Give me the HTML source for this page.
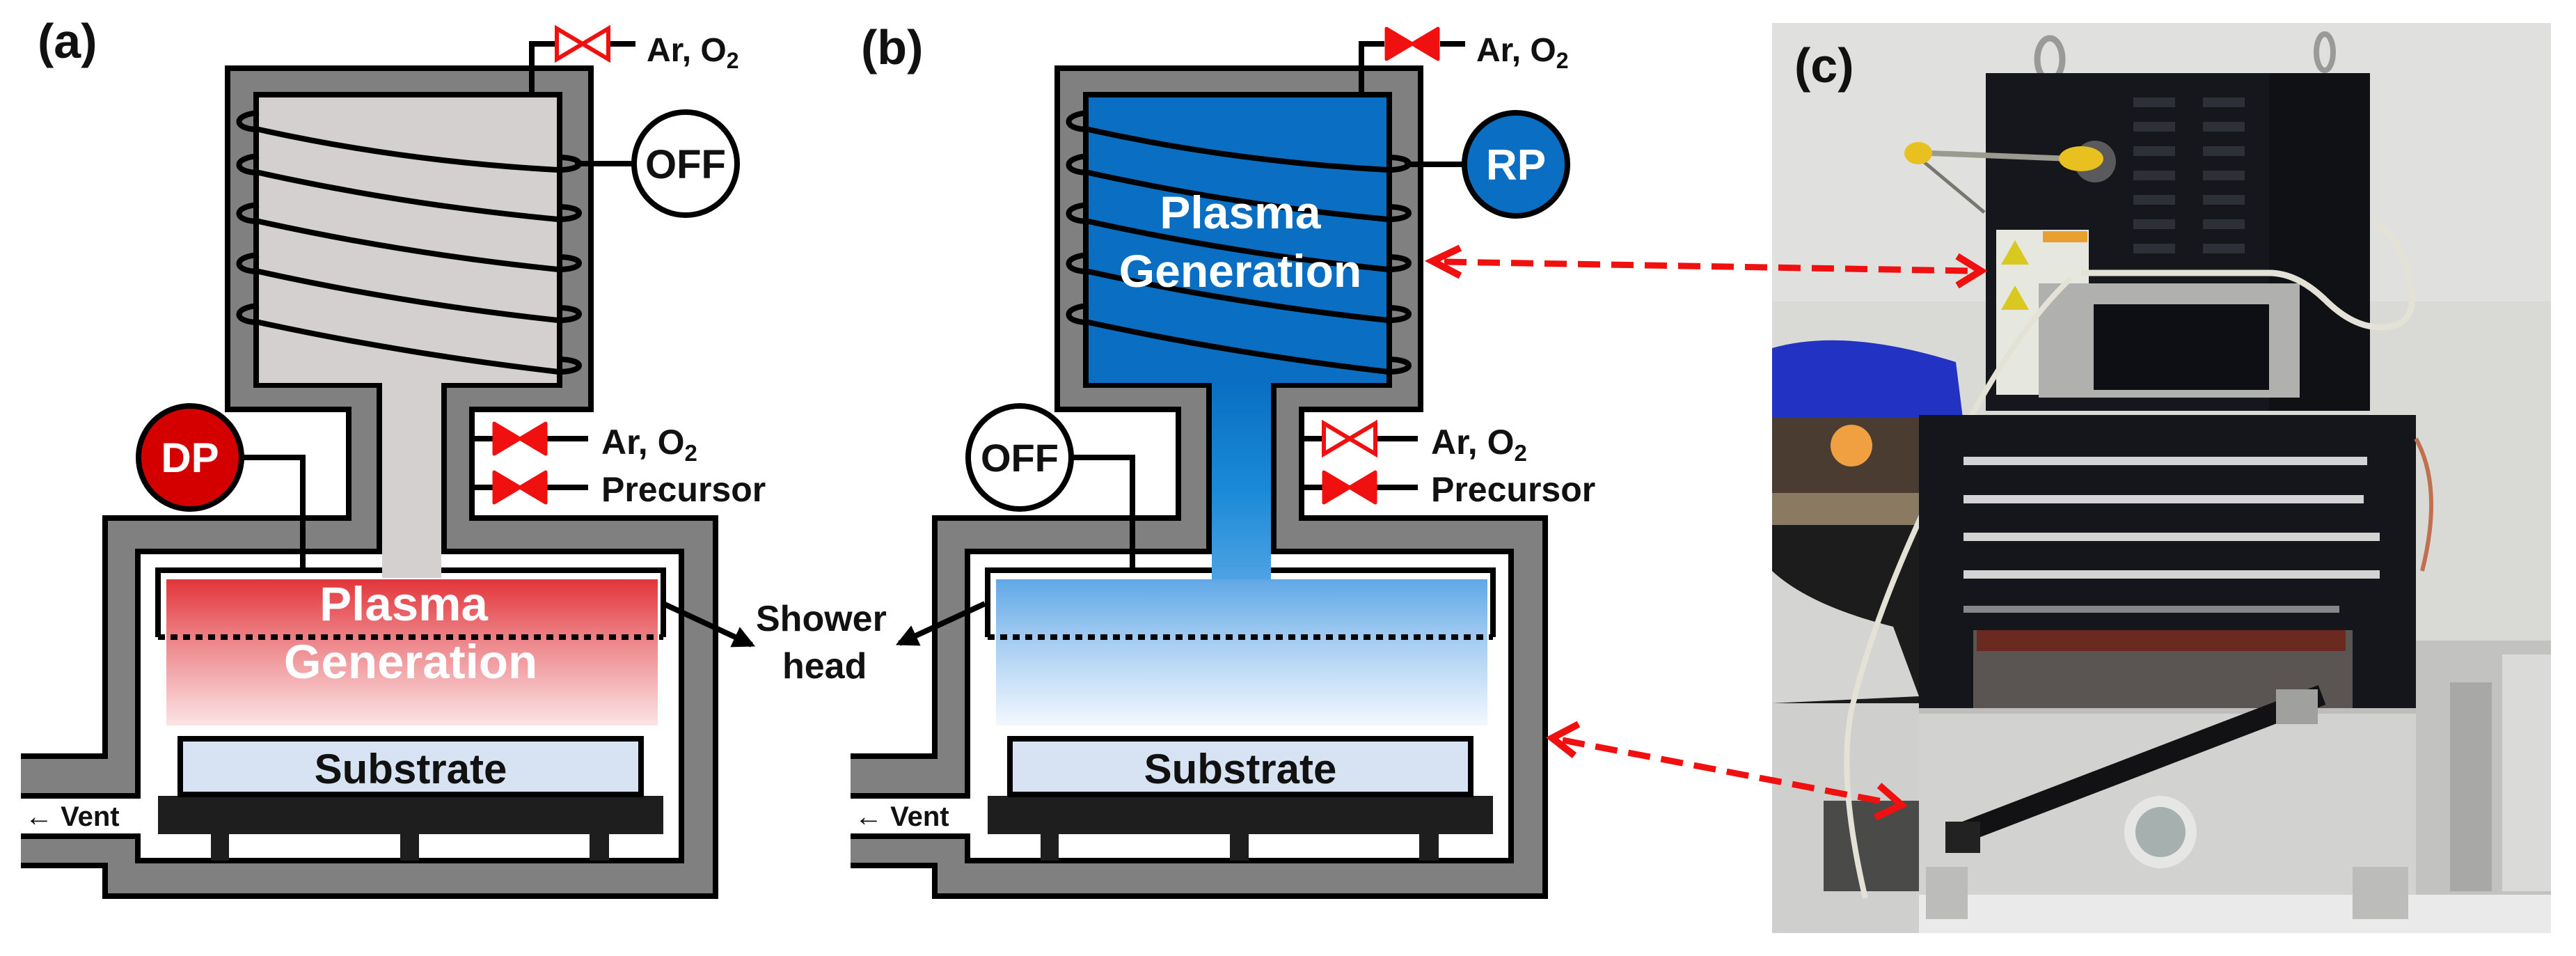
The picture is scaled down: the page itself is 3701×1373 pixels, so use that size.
<!DOCTYPE html>
<html><head><meta charset="utf-8"><style>
html,body{margin:0;padding:0;background:#fff;}
svg{display:block;}
text{font-family:"Liberation Sans",Arial,sans-serif;font-weight:bold;}
</style></head><body>
<svg width="3701" height="1373" viewBox="0 0 3701 1373" xmlns="http://www.w3.org/2000/svg">
<defs>
<linearGradient id="red" x1="0" y1="0" x2="0" y2="1">
<stop offset="0" stop-color="#e2353a"/><stop offset="0.45" stop-color="#ee8a8e"/><stop offset="1" stop-color="#fbe4e5"/></linearGradient>
<linearGradient id="blu" x1="0" y1="0" x2="0" y2="1">
<stop offset="0" stop-color="#5fa8e6"/><stop offset="0.45" stop-color="#a9cff2"/><stop offset="1" stop-color="#f2f8fe"/></linearGradient>
<linearGradient id="neck" x1="0" y1="0" x2="0" y2="1">
<stop offset="0" stop-color="#0a6fc2"/><stop offset="0.55" stop-color="#1a8ad8"/><stop offset="1" stop-color="#4ea2e2"/></linearGradient>
<marker id="ah" markerWidth="4" markerHeight="4" refX="3.3" refY="2" orient="auto" markerUnits="strokeWidth">
<path d="M0,0 L4,2 L0,4 Z" fill="#000"/></marker>
<g id="coils" fill="none" stroke="#000" stroke-width="8">
<path d="M372 162 C334 164 334 186 372 186 Q580 232 802 244 C842 244 842 226 802 226"/>
<path d="M372 224 C334 226 334 248 372 248 Q580 294 802 315 C842 315 842 297 802 297"/>
<path d="M372 294 C334 296 334 318 372 318 Q580 364 802 387 C842 387 842 369 802 369"/>
<path d="M372 366 C334 368 334 390 372 390 Q580 436 802 460 C842 460 842 442 802 442"/>
<path d="M372 439 C334 441 334 463 372 463 Q580 508 802 534 C842 534 842 516 802 516"/>
</g>
<path id="outer" d="M327 98 H849 V588 H678 V744 H1028 V1287 H151 V1243 H10 V1086 H151 V744 H501 V588 H327 Z"/>
<path id="inner" d="M368 136 H804 V553 H638 V792 H979 V1236 H198 V1201 H10 V1143 H198 V792 H545 V553 H368 Z"/>
<g id="bottom">
<rect x="227" y="1143" width="726" height="55" fill="#1e1e1e"/>
<rect x="303" y="1196" width="26" height="40" fill="#1e1e1e"/>
<rect x="575" y="1196" width="27" height="40" fill="#1e1e1e"/>
<rect x="847" y="1196" width="28" height="40" fill="#1e1e1e"/>
<rect x="259" y="1061" width="662" height="80" fill="#d7e3f3" stroke="#000" stroke-width="8"/>
<text x="590" y="1125" font-size="60" text-anchor="middle" fill="#111">Substrate</text>
<text x="36" y="1186" font-size="40" fill="#111">← Vent</text>
</g>
<g id="valveF"><path d="M-37 -22 L-37 22 L0 0 Z M37 -22 L37 22 L0 0 Z" fill="#f01010" stroke="#f01010" stroke-width="5" stroke-linejoin="round"/></g>
<g id="valveO"><path d="M-37 -22 L-37 22 L0 0 Z M37 -22 L37 22 L0 0 Z" fill="#fff" stroke="#f01010" stroke-width="6" stroke-linejoin="miter"/></g>
</defs>

<!-- ========== PANEL A ========== -->
<text x="54" y="83" font-size="70" fill="#111">(a)</text>
<use href="#outer" fill="#808080" stroke="#000" stroke-width="8"/>
<use href="#inner" fill="#fff" stroke="#000" stroke-width="8"/>
<rect x="0" y="1070" width="30" height="190" fill="#fff"/>
<rect x="372" y="140" width="428" height="410" fill="#d4d0d0"/>
<rect x="549" y="550" width="85" height="280" fill="#d4d0d0"/>
<rect x="239" y="832" width="706" height="210" fill="url(#red)"/>
<path d="M227 915 V819 H549 M634 819 H953 V915" fill="none" stroke="#000" stroke-width="8"/>
<line x1="227" y1="915" x2="953" y2="915" stroke="#000" stroke-width="8" stroke-dasharray="10 8"/>
<text x="580" y="891" font-size="69" text-anchor="middle" fill="#fff">Plasma</text>
<text x="590" y="974" font-size="69" text-anchor="middle" fill="#fff">Generation</text>
<use href="#coils"/>
<use href="#bottom"/>
<path d="M764 136 V63 H797 M877 63 H913" fill="none" stroke="#000" stroke-width="8"/>
<use href="#valveO" transform="translate(837,63)"/>
<text x="929" y="88" font-size="48" fill="#111">Ar, O<tspan font-size="32" dy="10">2</tspan></text>
<line x1="826" y1="235" x2="909" y2="235" stroke="#000" stroke-width="8"/>
<circle cx="985" cy="235" r="74" fill="#fff" stroke="#000" stroke-width="8"/>
<text x="985" y="256" font-size="58" text-anchor="middle" fill="#111">OFF</text>
<path d="M350 657 H435 V819" fill="none" stroke="#000" stroke-width="8"/>
<circle cx="273" cy="657" r="74" fill="#d40000" stroke="#000" stroke-width="8"/>
<text x="273" y="678" font-size="60" text-anchor="middle" fill="#fff">DP</text>
<path d="M678 630 H710 M784 630 H845 M678 700 H710 M784 700 H845" stroke="#000" stroke-width="8"/>
<use href="#valveF" transform="translate(747,630)"/>
<use href="#valveF" transform="translate(747,700)"/>
<text x="864" y="652" font-size="50" fill="#111">Ar, O<tspan font-size="33" dy="10">2</tspan></text>
<text x="864" y="720" font-size="50" fill="#111">Precursor</text>
<line x1="953" y1="867" x2="1080" y2="926" stroke="#000" stroke-width="8" marker-end="url(#ah)"/>
<text x="1086" y="906" font-size="52" fill="#111">Shower</text>
<text x="1124" y="974" font-size="52" fill="#111">head</text>

<!-- ========== PANEL B ========== -->
<text x="1237" y="92" font-size="70" fill="#111">(b)</text>
<g transform="translate(1192,0)">
<use href="#outer" fill="#808080" stroke="#000" stroke-width="8"/>
<use href="#inner" fill="#fff" stroke="#000" stroke-width="8"/>
<rect x="0" y="1070" width="30" height="190" fill="#fff"/>
<rect x="372" y="140" width="428" height="410" fill="#0a6fc2"/>
<rect x="549" y="550" width="85" height="282" fill="url(#neck)"/>
<rect x="239" y="832" width="706" height="210" fill="url(#blu)"/>
<path d="M227 915 V819 H549 M634 819 H953 V915" fill="none" stroke="#000" stroke-width="8"/>
<line x1="227" y1="915" x2="953" y2="915" stroke="#000" stroke-width="8" stroke-dasharray="10 8"/>
<use href="#coils"/>
<text x="590" y="328" font-size="66" text-anchor="middle" fill="#fff">Plasma</text>
<text x="590" y="412" font-size="66" text-anchor="middle" fill="#fff">Generation</text>
<use href="#bottom"/>
<path d="M764 136 V63 H797 M877 63 H913" fill="none" stroke="#000" stroke-width="8"/>
<use href="#valveF" transform="translate(837,63)"/>
<text x="929" y="88" font-size="48" fill="#111">Ar, O<tspan font-size="32" dy="10">2</tspan></text>
<line x1="826" y1="236" x2="909" y2="236" stroke="#000" stroke-width="8"/>
<circle cx="986" cy="236" r="74" fill="#0a6fc2" stroke="#000" stroke-width="8"/>
<text x="986" y="258" font-size="62" text-anchor="middle" fill="#fff">RP</text>
<path d="M350 657 H435 V819" fill="none" stroke="#000" stroke-width="8"/>
<circle cx="273" cy="657" r="74" fill="#fff" stroke="#000" stroke-width="8"/>
<text x="273" y="677" font-size="56" text-anchor="middle" fill="#111">OFF</text>
<path d="M678 630 H710 M784 630 H845 M678 700 H710 M784 700 H845" stroke="#000" stroke-width="8"/>
<use href="#valveO" transform="translate(747,630)"/>
<use href="#valveF" transform="translate(747,700)"/>
<text x="864" y="652" font-size="50" fill="#111">Ar, O<tspan font-size="33" dy="10">2</tspan></text>
<text x="864" y="720" font-size="50" fill="#111">Precursor</text>
<line x1="223" y1="867" x2="100" y2="924" stroke="#000" stroke-width="8" marker-end="url(#ah)"/>
</g>

<!-- ========== PANEL C ========== -->
<rect x="2546" y="33" width="1119" height="1307" fill="#d9d9d6"/>
<rect x="2546" y="33" width="1119" height="400" fill="#e0e0de"/>
<ellipse cx="2945" cy="85" rx="18" ry="30" fill="none" stroke="#9a9a98" stroke-width="9"/>
<ellipse cx="3340" cy="75" rx="12" ry="26" fill="none" stroke="#9a9a98" stroke-width="8"/>
<path d="M2546 500 Q2650 470 2810 520 L2820 600 Q2680 610 2546 620 Z" fill="#2233c4"/>
<rect x="2546" y="600" width="211" height="110" fill="#4a3c30"/>
<circle cx="2660" cy="640" r="30" fill="#f0a040"/>
<rect x="2546" y="708" width="211" height="46" fill="#8b7a62"/>
<path d="M2546 754 H2757 V1010 H2546 Z" fill="#1c1c1c"/>
<path d="M2546 820 Q2600 870 2720 900 L2757 1000 L2546 1010 Z" fill="#d4d4d2"/>
<rect x="2546" y="1010" width="211" height="330" fill="#cfcfcd"/>
<rect x="2620" y="1150" width="137" height="130" fill="#4a4a48"/>
<rect x="2853" y="105" width="552" height="485" fill="#16171c"/>
<rect x="3260" y="105" width="145" height="485" fill="#101115"/>
<g fill="#2e3038">
<rect x="3065" y="140" width="60" height="14"/><rect x="3165" y="140" width="60" height="14"/>
<rect x="3065" y="175" width="60" height="14"/><rect x="3165" y="175" width="60" height="14"/>
<rect x="3065" y="210" width="60" height="14"/><rect x="3165" y="210" width="60" height="14"/>
<rect x="3065" y="245" width="60" height="14"/><rect x="3165" y="245" width="60" height="14"/>
<rect x="3065" y="280" width="60" height="14"/><rect x="3165" y="280" width="60" height="14"/>
<rect x="3065" y="315" width="60" height="14"/><rect x="3165" y="315" width="60" height="14"/>
<rect x="3065" y="350" width="60" height="14"/><rect x="3165" y="350" width="60" height="14"/>
</g>
<rect x="2868" y="330" width="133" height="237" fill="#e6e8e0"/>
<rect x="2935" y="332" width="64" height="16" fill="#e8a030"/>
<path d="M2875 380 L2895 345 L2915 380 Z" fill="#d8c820"/>
<path d="M2875 445 L2895 410 L2915 445 Z" fill="#d8c820"/>
<rect x="2929" y="407" width="375" height="164" fill="#b0b0ae"/>
<rect x="3008" y="437" width="252" height="123" fill="#0e0f14"/>
<line x1="2749" y1="219" x2="3001" y2="229" stroke="#9a9a90" stroke-width="8"/>
<line x1="2755" y1="225" x2="2851" y2="305" stroke="#77776f" stroke-width="5"/>
<circle cx="3010" cy="232" r="30" fill="#777" opacity="0.7"/>
<ellipse cx="2756" cy="220" rx="20" ry="16" fill="#e8c020"/>
<ellipse cx="2990" cy="228" rx="32" ry="18" fill="#e8c020"/>
<path d="M2990 392 H3260 Q3300 392 3340 430 Q3380 470 3420 470 Q3470 470 3465 420 Q3455 340 3410 320" fill="none" stroke="#e4e2d6" stroke-width="9"/>
<path d="M2975 400 Q2900 470 2820 620 Q2700 850 2660 1020 Q2640 1120 2680 1290" fill="none" stroke="#e4e2d6" stroke-width="8"/>
<rect x="2757" y="596" width="714" height="421" fill="#15161b"/>
<rect x="2835" y="905" width="545" height="115" fill="#5a5452"/>
<rect x="2840" y="905" width="530" height="30" fill="#6a2a20"/>
<g fill="#d3d3d3">
<rect x="2821" y="656" width="580" height="12"/>
<rect x="2821" y="711" width="575" height="12"/>
<rect x="2821" y="765" width="598" height="12"/>
<rect x="2821" y="819" width="598" height="12"/>
<rect x="2821" y="870" width="540" height="10" opacity="0.6"/>
</g>
<path d="M3471 630 Q3510 700 3480 820" fill="none" stroke="#c07050" stroke-width="6"/>
<rect x="2757" y="1017" width="714" height="268" fill="#d2d2d0"/>
<rect x="2757" y="1017" width="714" height="8" fill="#bdbdbb"/>
<line x1="2809" y1="1200" x2="3336" y2="998" stroke="#121214" stroke-width="30"/>
<rect x="2795" y="1180" width="50" height="45" fill="#222"/>
<rect x="3270" y="990" width="60" height="50" fill="#a0a09e"/>
<circle cx="3104" cy="1195" r="52" fill="#e6e6e4"/>
<circle cx="3104" cy="1195" r="36" fill="#a6b0ae"/>
<rect x="2757" y="1285" width="908" height="55" fill="#eaeaea"/>
<rect x="2767" y="1245" width="60" height="75" fill="#bcbcba"/>
<rect x="3380" y="1245" width="80" height="75" fill="#bcbcba"/>
<rect x="3471" y="920" width="194" height="365" fill="#c2c2c0"/>
<rect x="3520" y="980" width="60" height="300" fill="#a8a8a6"/>
<rect x="3595" y="940" width="70" height="340" fill="#dadad8"/>
<text x="2578" y="118" font-size="70" fill="#111">(c)</text>

<g stroke="#f01010" stroke-width="9" fill="none">
<line x1="2075" y1="376" x2="2830" y2="389" stroke-dasharray="32 16"/>
<path d="M2098 356 L2058 375 L2098 396" stroke-width="10"/>
<path d="M2812 368 L2846 389 L2812 410" stroke-width="10"/>
<line x1="2245" y1="1063" x2="2715" y2="1153" stroke-dasharray="32 16"/>
<path d="M2268 1040 L2230 1060 L2262 1085" stroke-width="10"/>
<path d="M2700 1128 L2732 1156 L2694 1174" stroke-width="10"/>
</g>
</svg>
</body></html>
